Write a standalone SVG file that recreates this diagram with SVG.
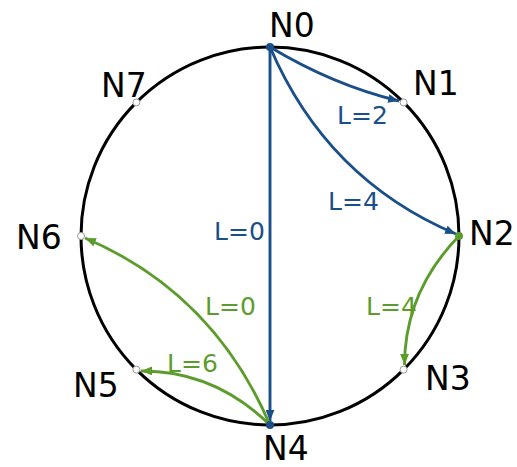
<svg xmlns="http://www.w3.org/2000/svg" width="517" height="467" viewBox="0 0 517 467">
<style>
.lbl{font-family:"DejaVu Sans",sans-serif;font-size:33px;fill:#000}
.el{font-family:"DejaVu Sans",sans-serif;font-size:25px}
.b{stroke:#1b4f8a;fill:none;stroke-width:2.9}
.g{stroke:#5c9c2c;fill:none;stroke-width:2.9}
.bt{fill:#1b4f8a}
.gt{fill:#5c9c2c}
.hollow{fill:#fff;stroke:#999;stroke-width:1}
</style>
<defs>
<marker id="ab" viewBox="0 0 10 8" refX="10" refY="4" markerWidth="11" markerHeight="9" markerUnits="userSpaceOnUse" orient="auto"><path d="M0,0 L10,4 L0,8 z" fill="#1b4f8a"/></marker>
<marker id="ag" viewBox="0 0 10 8" refX="10" refY="4" markerWidth="11" markerHeight="9" markerUnits="userSpaceOnUse" orient="auto"><path d="M0,0 L10,4 L0,8 z" fill="#5c9c2c"/></marker>
</defs>
<circle cx="270" cy="236" r="189" fill="none" stroke="#000" stroke-width="3"/>
<g id="connectors">
<path class="b" d="M270,47 Q333,85 399,101" marker-end="url(#ab)"/>
<path class="b" d="M270,47 Q326.5,179.3 456,234" marker-end="url(#ab)"/>
<path class="b" d="M270,47 L270,421" marker-end="url(#ab)"/>
<path class="g" d="M459,236 Q404.8,291.7 404.5,365" marker-end="url(#ag)"/>
<path class="g" d="M270,425 Q213.3,292.7 85,238" marker-end="url(#ag)"/>
<path class="g" d="M270,425 Q214.3,370.6 141,371" marker-end="url(#ag)"/>
<text class="el bt" x="337" y="124">L=2</text>
<text class="el bt" x="328" y="210">L=4</text>
<text class="el bt" x="214" y="240">L=0</text>
<text class="el gt" x="366" y="315">L=4</text>
<text class="el gt" x="205" y="315">L=0</text>
<text class="el gt" x="167" y="372">L=6</text>
</g>
<g id="N0"><circle cx="270" cy="47" r="4" fill="#1b4f8a"/><text class="lbl" x="269" y="37">N0</text></g>
<g id="N1"><circle class="hollow" cx="403.6" cy="102.4" r="3.5"/><text class="lbl" x="413" y="95">N1</text></g>
<g id="N2"><circle cx="459" cy="236" r="4" fill="#5c9c2c"/><text class="lbl" x="469" y="245">N2</text></g>
<g id="N3"><circle class="hollow" cx="403.6" cy="369.6" r="3.5"/><text class="lbl" x="425" y="390">N3</text></g>
<g id="N4"><circle cx="270" cy="425" r="4" fill="#1b4f8a"/><text class="lbl" x="263" y="460">N4</text></g>
<g id="N5"><circle class="hollow" cx="136.4" cy="369.6" r="3.5"/><text class="lbl" x="73" y="397">N5</text></g>
<g id="N6"><circle class="hollow" cx="81" cy="236" r="3.5"/><text class="lbl" x="16" y="249">N6</text></g>
<g id="N7"><circle class="hollow" cx="136.4" cy="102.4" r="3.5"/><text class="lbl" x="101" y="97">N7</text></g>
</svg>
